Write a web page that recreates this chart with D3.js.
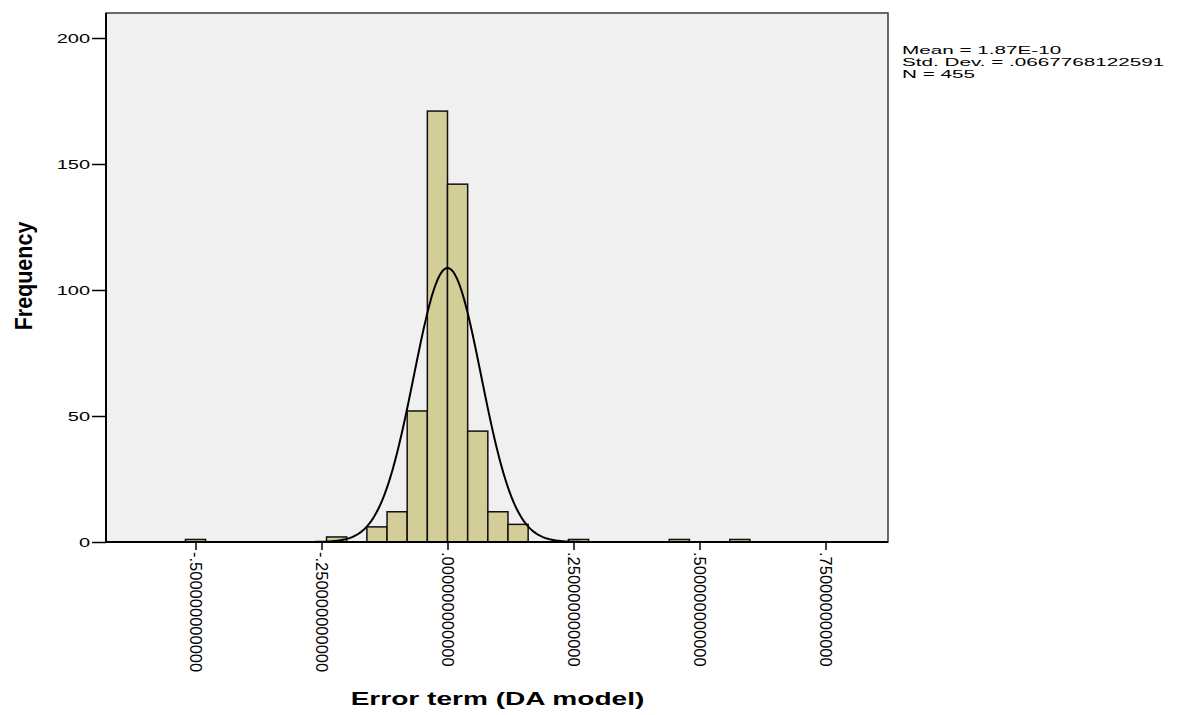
<!DOCTYPE html>
<html>
<head>
<meta charset="utf-8">
<script src="https://cdn.jsdelivr.net/npm/d3@7"></script>
<style>
  body { margin: 0; background: #fff; }
  text { font-family: "Liberation Sans", Arial, sans-serif; fill: #000; }
</style>
</head>
<body>
<svg id="chart"></svg>
<script>
// histogram bins (left edge of each bin) and the counts
var binStarts = [-0.52, -0.24, -0.16, -0.12, -0.08, -0.04, 0.00, 0.04, 0.08, 0.12, 0.24, 0.44, 0.56];
var binCounts = [1, 2, 6, 12, 52, 171, 142, 44, 12, 7, 1, 1, 1];
var binWidth = 0.04;

var xTicks = [-0.5, -0.25, 0, 0.25, 0.5, 0.75];
var yTicks = [0, 50, 100, 150, 200];

var statLines = ["Mean = 1.87E-10", "Std. Dev. = .0667768122591", "N = 455"];
var mean = 1.87e-10, sd = 0.0667768122591, n = 455;

var W = 1184, H = 715;
var margin = { top: 13, right: 296, bottom: 173, left: 106 };
var w = W - margin.left - margin.right,
    h = H - margin.top - margin.bottom;
var SX = 1.6; // horizontal stretch of the upright text in the original

var svg = d3.select("#chart").attr("width", W).attr("height", H);

var xScale = d3.scaleLinear().domain([-0.6776, 0.8740]).range([0, w]);
var yScale = d3.scaleLinear().domain([0, 210]).range([h, h - 210 * 2.52]);

var g = svg.append("g").attr("transform", "translate(" + margin.left + "," + margin.top + ")");

g.append("rect")
  .attr("width", w).attr("height", h)
  .attr("fill", "#f0f0f0");

g.append("clipPath").attr("id", "plotclip")
  .append("rect").attr("width", w).attr("height", h);

var bins = binStarts.map(function(s, i) { return { x0: s, x1: s + binWidth, count: binCounts[i] }; });

g.selectAll("rect.bar")
  .data(bins)
  .enter()
  .append("rect")
  .attr("class", "bar")
  .attr("x", function(d) { return xScale(d.x0); })
  .attr("y", function(d) { return yScale(d.count); })
  .attr("width", function(d) { return xScale(d.x1) - xScale(d.x0); })
  .attr("height", function(d) { return yScale(0) - yScale(d.count); })
  .attr("fill", "#d3ce97")
  .attr("stroke", "#111")
  .attr("stroke-width", 1.5);

// normal curve from the stated mean / sd, scaled to counts per bin
var curvePts = d3.range(0, w + 1, 1).map(function(px) {
  var x = xScale.invert(px);
  var z = (x - mean) / sd;
  return [x, n * binWidth * Math.exp(-0.5 * z * z) / (sd * Math.sqrt(2 * Math.PI))];
});
var line = d3.line()
  .x(function(d) { return xScale(d[0]); })
  .y(function(d) { return yScale(d[1]); });

g.append("path")
  .datum(curvePts)
  .attr("clip-path", "url(#plotclip)")
  .attr("d", line)
  .attr("fill", "none")
  .attr("stroke", "#000")
  .attr("stroke-width", 2);

// frame
g.append("rect")
  .attr("width", w).attr("height", h)
  .attr("fill", "none")
  .attr("stroke", "#3a3a3a")
  .attr("stroke-width", 1.5);

// y axis
var yAxis = d3.axisLeft(yScale).tickValues(yTicks).tickSize(14).tickPadding(2);
var yG = g.append("g").call(yAxis);
yG.select(".domain").remove();
yG.selectAll(".tick line").attr("stroke", "#000").attr("stroke-width", 1.5);
yG.selectAll(".tick text")
  .attr("x", null)
  .attr("transform", "translate(-16,0) scale(" + SX + ",1)")
  .style("font-size", "12.5px")
  .style("fill", "#000");

// x axis, labels turned to read downwards (SPSS style: no leading zero)
var fmt = function(d) {
  var s = d3.format(".12f")(Math.abs(d)).replace(/^0\./, ".");
  return (d < 0 ? "-" : "") + s;
};
var xAxis = d3.axisBottom(xScale).tickValues(xTicks).tickFormat(fmt).tickSize(8);
var xG = g.append("g").attr("transform", "translate(0," + h + ")").call(xAxis);
xG.select(".domain").remove();
xG.selectAll(".tick line").attr("stroke", "#000").attr("stroke-width", 1.5);
xG.selectAll(".tick text")
  .attr("y", 0).attr("x", 10).attr("dy", "0.35em")
  .attr("transform", "rotate(90)")
  .attr("text-anchor", "start")
  .style("font-size", "16.5px")
  .style("fill", "#000");

// bottom and left axis lines drawn over the frame
g.append("line")
  .attr("x1", 0).attr("x2", w).attr("y1", h).attr("y2", h)
  .attr("stroke", "#000").attr("stroke-width", 2);
g.append("line")
  .attr("x1", 0).attr("x2", 0).attr("y1", 0).attr("y2", h)
  .attr("stroke", "#000").attr("stroke-width", 2);

// axis titles
svg.append("text")
  .attr("transform", "translate(497.5,705) scale(1.56,1)")
  .attr("text-anchor", "middle")
  .style("font-size", "18px")
  .style("font-weight", "bold")
  .text("Error term (DA model)");

svg.append("text")
  .attr("transform", "translate(32,276) rotate(-90) scale(1,1.15)")
  .attr("text-anchor", "middle")
  .style("font-size", "21.5px")
  .style("font-weight", "bold")
  .text("Frequency");

// stats box text
svg.selectAll("text.stat")
  .data(statLines)
  .enter()
  .append("text")
  .attr("class", "stat")
  .attr("transform", function(d, i) { return "translate(902," + (54 + i * 12.2) + ") scale(1.97,1)"; })
  .style("font-size", "10.5px")
  .text(function(d) { return d; });
</script>
</body>
</html>
